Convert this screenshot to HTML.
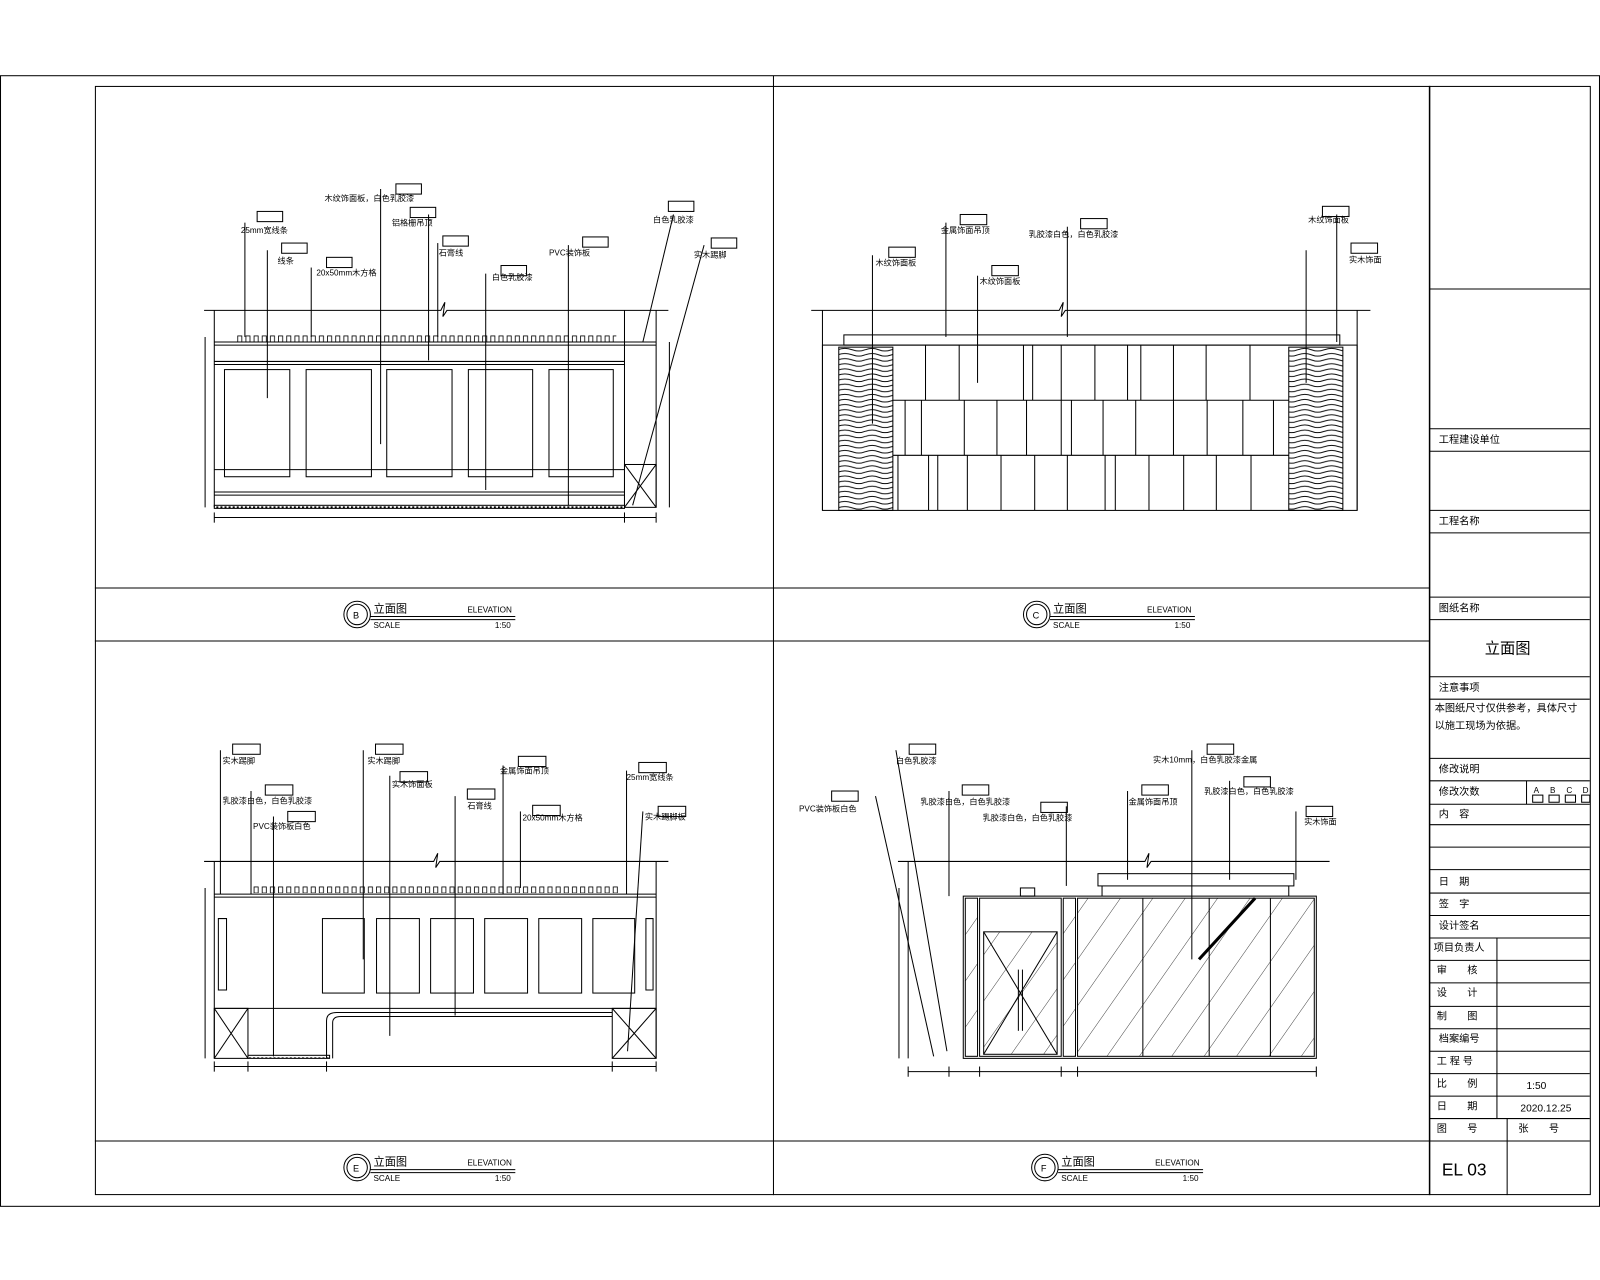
<!DOCTYPE html>
<html><head><meta charset="utf-8"><style>
html,body{margin:0;padding:0;background:#fff}
svg{display:block}
text{font-family:"Liberation Sans","Noto Sans CJK SC",sans-serif;fill:#000}
</style></head><body>
<svg width="1600" height="1280" viewBox="0 0 1568 1254" xmlns="http://www.w3.org/2000/svg">
<defs>
<pattern id="slat" x="0" y="328" width="8" height="8" patternUnits="userSpaceOnUse"><rect x="1" y="1" width="4" height="6" fill="none" stroke="#000" stroke-width="0.8"/></pattern>
<pattern id="slatE" x="0" y="868" width="8" height="8" patternUnits="userSpaceOnUse"><rect x="1" y="1" width="4" height="6" fill="none" stroke="#000" stroke-width="0.8"/></pattern>
<pattern id="wood" width="53" height="5" patternUnits="userSpaceOnUse"><path d="M0 2.5 Q7 0 13 2.5 T26 2.5 T40 2.5 T53 2.5" fill="none" stroke="#000" stroke-width="0.9"/></pattern>
<pattern id="glass" width="26" height="26" patternUnits="userSpaceOnUse" patternTransform="rotate(-55)"><line x1="0" y1="0" x2="26" y2="0" stroke="#000" stroke-width="0.8"/></pattern>
<pattern id="dots" width="4" height="4" patternUnits="userSpaceOnUse"><rect width="2" height="2" fill="#000"/></pattern>
</defs>
<g fill="none" stroke="#000" stroke-width="1">
<rect x="0.5" y="74" width="1567" height="1108"/>
<rect x="93.5" y="84.5" width="1465" height="1086"/>
<line x1="758" y1="74" x2="758" y2="1171"/>
<line x1="93" y1="628" x2="1401" y2="628"/>
<line x1="93" y1="576" x2="1401" y2="576"/>
<line x1="93" y1="1118" x2="1401" y2="1118"/>
<line x1="1401" y1="84" x2="1401" y2="1171" stroke-width="1.5"/>
<g>
<line x1="1401" y1="283" x2="1558" y2="283"/>
<line x1="1401" y1="420" x2="1558" y2="420"/>
<line x1="1401" y1="442" x2="1558" y2="442"/>
<line x1="1401" y1="500" x2="1558" y2="500"/>
<line x1="1401" y1="522" x2="1558" y2="522"/>
<line x1="1401" y1="585" x2="1558" y2="585"/>
<line x1="1401" y1="607" x2="1558" y2="607"/>
<line x1="1401" y1="663" x2="1558" y2="663"/>
<line x1="1401" y1="685" x2="1558" y2="685"/>
<line x1="1401" y1="743" x2="1558" y2="743"/>
<line x1="1401" y1="765" x2="1558" y2="765"/>
<line x1="1401" y1="788" x2="1558" y2="788"/>
<line x1="1401" y1="808" x2="1558" y2="808"/>
<line x1="1401" y1="830" x2="1558" y2="830"/>
<line x1="1401" y1="852" x2="1558" y2="852"/>
<line x1="1401" y1="875" x2="1558" y2="875"/>
<line x1="1401" y1="897" x2="1558" y2="897"/>
<line x1="1401" y1="919" x2="1558" y2="919"/>
<line x1="1401" y1="941" x2="1558" y2="941"/>
<line x1="1401" y1="963" x2="1558" y2="963"/>
<line x1="1401" y1="986" x2="1558" y2="986"/>
<line x1="1401" y1="1008" x2="1558" y2="1008"/>
<line x1="1401" y1="1030" x2="1558" y2="1030"/>
<line x1="1401" y1="1052" x2="1558" y2="1052"/>
<line x1="1401" y1="1074" x2="1558" y2="1074"/>
<line x1="1401" y1="1096" x2="1558" y2="1096"/>
<line x1="1401" y1="1118" x2="1558" y2="1118"/>
<line x1="1467" y1="919" x2="1467" y2="1096"/>
<line x1="1477" y1="1096" x2="1477" y2="1171"/>
<line x1="1496" y1="765" x2="1496" y2="788"/>
<rect x="1502" y="779" width="10" height="7"/><rect x="1518" y="779" width="10" height="7"/><rect x="1534" y="779" width="10" height="7"/><rect x="1550" y="779" width="8" height="7"/>
</g>
</g>
<g font-size="10">
<text x="1410" y="434">工程建设单位</text>
<text x="1410" y="514">工程名称</text>
<text x="1410" y="599">图纸名称</text>
<text x="1455" y="640" font-size="15">立面图</text>
<text x="1410" y="677">注意事项</text>
<text x="1406" y="697">本图纸尺寸仅供参考，具体尺寸</text>
<text x="1406" y="714">以施工现场为依据。</text>
<text x="1410" y="757">修改说明</text>
<text x="1410" y="779">修改次数</text>
<text x="1503" y="777" font-size="8">A</text><text x="1519" y="777" font-size="8">B</text><text x="1535" y="777" font-size="8">C</text><text x="1551" y="777" font-size="8">D</text>
<text x="1410" y="801">内　容</text>
<text x="1410" y="867">日　期</text>
<text x="1410" y="889">签　字</text>
<text x="1410" y="910">设计签名</text>
<text x="1405" y="932">项目负责人</text>
<text x="1408" y="954">审　　核</text>
<text x="1408" y="976">设　　计</text>
<text x="1408" y="999">制　　图</text>
<text x="1410" y="1021">档案编号</text>
<text x="1408" y="1043">工 程 号</text>
<text x="1408" y="1065">比　　例</text><text x="1496" y="1067">1:50</text>
<text x="1408" y="1087">日　　期</text><text x="1490" y="1089">2020.12.25</text>
<text x="1408" y="1109">图　　号</text><text x="1488" y="1109">张　　号</text>
<text x="1413" y="1152" font-size="17" font-family="Liberation Serif">EL  03</text>
</g>

<g font-size="10" fill="none" stroke="#000">
<g>
<circle cx="350" cy="602" r="13"/><circle cx="350" cy="602" r="10"/>
<line x1="363" y1="604" x2="505" y2="604"/><line x1="363" y1="607" x2="505" y2="607"/>
</g>
<g transform="translate(666,0)">
<circle cx="350" cy="602" r="13"/><circle cx="350" cy="602" r="10"/>
<line x1="363" y1="604" x2="505" y2="604"/><line x1="363" y1="607" x2="505" y2="607"/>
</g>
<g transform="translate(0,542)">
<circle cx="350" cy="602" r="13"/><circle cx="350" cy="602" r="10"/>
<line x1="363" y1="604" x2="505" y2="604"/><line x1="363" y1="607" x2="505" y2="607"/>
</g>
<g transform="translate(674,542)">
<circle cx="350" cy="602" r="13"/><circle cx="350" cy="602" r="10"/>
<line x1="363" y1="604" x2="505" y2="604"/><line x1="363" y1="607" x2="505" y2="607"/>
</g>
</g>
<g font-size="11">
<text x="346" y="606" font-size="9">B</text><text x="366" y="600">立面图</text><text x="458" y="600" font-size="8">ELEVATION</text><text x="366" y="615" font-size="8">SCALE</text><text x="485" y="615" font-size="8">1:50</text>
<text x="1012" y="606" font-size="9">C</text><text x="1032" y="600">立面图</text><text x="1124" y="600" font-size="8">ELEVATION</text><text x="1032" y="615" font-size="8">SCALE</text><text x="1151" y="615" font-size="8">1:50</text>
<text x="346" y="1148" font-size="9">E</text><text x="366" y="1142">立面图</text><text x="458" y="1142" font-size="8">ELEVATION</text><text x="366" y="1157" font-size="8">SCALE</text><text x="485" y="1157" font-size="8">1:50</text>
<text x="1020" y="1148" font-size="9">F</text><text x="1040" y="1142">立面图</text><text x="1132" y="1142" font-size="8">ELEVATION</text><text x="1040" y="1157" font-size="8">SCALE</text><text x="1159" y="1157" font-size="8">1:50</text>
</g>

<!-- ELEVATION B -->
<g fill="none" stroke="#000" stroke-width="1">
<path d="M200 304 H432 L436 296 L434 310 L438 304 H655"/>
<line x1="210" y1="304" x2="210" y2="497"/>
<line x1="612" y1="304" x2="612" y2="497"/>
<line x1="643" y1="304" x2="643" y2="497"/>
<rect x="232" y="328" width="372" height="7" fill="url(#slat)" stroke="none"/>
<line x1="210" y1="335" x2="643" y2="335"/><line x1="210" y1="338" x2="643" y2="338"/>
<line x1="210" y1="354" x2="612" y2="354"/><line x1="210" y1="357" x2="612" y2="357"/>
<rect x="220" y="362" width="64" height="105"/><rect x="300" y="362" width="64" height="105"/><rect x="379" y="362" width="64" height="105"/><rect x="459" y="362" width="63" height="105"/><rect x="538" y="362" width="63" height="105"/>
<line x1="210" y1="460" x2="612" y2="460"/>
<line x1="210" y1="482" x2="612" y2="482"/><line x1="210" y1="485" x2="612" y2="485"/>
<rect x="210" y="495" width="402" height="3" fill="url(#dots)"/>
<rect x="612" y="455" width="31" height="42"/><line x1="612" y1="455" x2="643" y2="497"/><line x1="643" y1="455" x2="612" y2="497"/>
<line x1="210" y1="507" x2="643" y2="507"/><line x1="210" y1="502" x2="210" y2="512"/><line x1="612" y1="502" x2="612" y2="512"/><line x1="643" y1="502" x2="643" y2="512"/>
<line x1="201" y1="330" x2="201" y2="497"/><line x1="656" y1="335" x2="656" y2="497"/>
<line x1="240" y1="218" x2="240" y2="330"/><line x1="262" y1="245" x2="262" y2="390"/><line x1="305" y1="262" x2="305" y2="330"/>
<line x1="373" y1="185" x2="373" y2="435"/><line x1="420" y1="210" x2="420" y2="353"/><line x1="429" y1="238" x2="429" y2="330"/>
<line x1="476" y1="268" x2="476" y2="480"/><line x1="557" y1="240" x2="557" y2="495"/>
<line x1="660" y1="210" x2="630" y2="335"/><line x1="690" y1="240" x2="620" y2="495"/>
<rect x="252" y="207" width="25" height="10"/><rect x="276" y="238" width="25" height="10"/><rect x="320" y="252" width="25" height="10"/><rect x="388" y="180" width="25" height="10"/><rect x="402" y="203" width="25" height="10"/><rect x="434" y="231" width="25" height="10"/><rect x="491" y="260" width="25" height="10"/><rect x="571" y="232" width="25" height="10"/><rect x="655" y="197" width="25" height="10"/><rect x="697" y="233" width="25" height="10"/>
</g>
<g font-size="8">
<text x="236" y="228">25mm宽线条</text><text x="272" y="258">线条</text><text x="310" y="270">20x50mm木方格</text><text x="318" y="197">木纹饰面板，白色乳胶漆</text><text x="384" y="221">铝格栅吊顶</text><text x="430" y="250">石膏线</text><text x="482" y="274">白色乳胶漆</text><text x="538" y="250">PVC装饰板</text><text x="640" y="218">白色乳胶漆</text><text x="680" y="252">实木踢脚</text>
</g>

<!-- ELEVATION C -->
<g fill="none" stroke="#000" stroke-width="1">
<path d="M795 304 H1038 L1042 296 L1040 310 L1044 304 H1343"/>
<line x1="806" y1="304" x2="806" y2="500"/><line x1="1330" y1="304" x2="1330" y2="500"/>
<rect x="827" y="328" width="486" height="10"/>
<rect x="806" y="338" width="524" height="162"/>
<rect x="822" y="340" width="53" height="160" fill="url(#wood)"/>
<rect x="1263" y="340" width="53" height="160" fill="url(#wood)"/>
<line x1="875" y1="392" x2="1263" y2="392"/><line x1="875" y1="446" x2="1263" y2="446"/>
<path d="M907 338V392M940 338V392M1003 338V392M1012 338V392M1040 338V392M1073 338V392M1105 338V392M1118 338V392M1150 338V392M1182 338V392M1225 338V392
M887 392V446M903 392V446M945 392V446M977 392V446M1006 392V446M1040 392V446M1050 392V446M1081 392V446M1113 392V446M1150 392V446M1183 392V446M1218 392V446M1248 392V446
M880 446V500M910 446V500M919 446V500M948 446V500M981 446V500M1014 446V500M1046 446V500M1083 446V500M1093 446V500M1126 446V500M1160 446V500M1192 446V500M1226 446V500"/>
<line x1="855" y1="250" x2="855" y2="415"/><line x1="927" y1="218" x2="927" y2="330"/><line x1="958" y1="270" x2="958" y2="375"/><line x1="1046" y1="222" x2="1046" y2="330"/><line x1="1310" y1="210" x2="1310" y2="335"/><line x1="1280" y1="245" x2="1280" y2="375"/>
<rect x="871" y="242" width="26" height="10"/><rect x="941" y="210" width="26" height="10"/><rect x="972" y="260" width="26" height="10"/><rect x="1059" y="214" width="26" height="10"/><rect x="1296" y="202" width="26" height="10"/><rect x="1324" y="238" width="26" height="10"/>
</g>
<g font-size="8"><text x="858" y="260">木纹饰面板</text><text x="922" y="228">金属饰面吊顶</text><text x="1008" y="232">乳胶漆白色，白色乳胶漆</text><text x="960" y="278">木纹饰面板</text><text x="1282" y="218">木纹饰面板</text><text x="1322" y="257">实木饰面</text></g>

<!-- ELEVATION E -->
<g fill="none" stroke="#000" stroke-width="1">
<path d="M200 844 H425 L429 836 L427 850 L431 844 H655"/>
<line x1="210" y1="844" x2="210" y2="1037"/><line x1="643" y1="844" x2="643" y2="1037"/>
<rect x="248" y="868" width="360" height="7" fill="url(#slatE)" stroke="none"/>
<line x1="210" y1="876" x2="643" y2="876"/><line x1="210" y1="879" x2="643" y2="879"/>
<rect x="316" y="900" width="41" height="73"/><rect x="369" y="900" width="42" height="73"/><rect x="422" y="900" width="42" height="73"/><rect x="475" y="900" width="42" height="73"/><rect x="528" y="900" width="42" height="73"/><rect x="581" y="900" width="41" height="73"/>
<path d="M214 900 H222 V970 H214 Z M633 900 H640 V970 H633 Z"/>
<line x1="210" y1="988" x2="643" y2="988"/>
<rect x="210" y="988" width="33" height="49"/><line x1="210" y1="988" x2="243" y2="1037"/><line x1="243" y1="988" x2="210" y2="1037"/>
<rect x="600" y="988" width="43" height="49"/><line x1="600" y1="988" x2="643" y2="1037"/><line x1="643" y1="988" x2="600" y2="1037"/>
<path d="M320 1037 V1000 Q320 992 330 992 H600 M326 1037 V1002 Q326 996 334 996 H600"/>
<rect x="243" y="1034" width="80" height="3" fill="url(#dots)"/>
<line x1="210" y1="1045" x2="643" y2="1045"/><line x1="210" y1="1040" x2="210" y2="1050"/><line x1="243" y1="1040" x2="243" y2="1050"/><line x1="320" y1="1040" x2="320" y2="1050"/><line x1="600" y1="1040" x2="600" y2="1050"/><line x1="643" y1="1040" x2="643" y2="1050"/>
<line x1="201" y1="870" x2="201" y2="1037"/>
<line x1="216" y1="735" x2="216" y2="876"/><line x1="246" y1="775" x2="246" y2="876"/><line x1="268" y1="800" x2="268" y2="1035"/>
<line x1="356" y1="735" x2="356" y2="940"/><line x1="382" y1="760" x2="382" y2="1015"/><line x1="446" y1="780" x2="446" y2="995"/><line x1="493" y1="750" x2="493" y2="876"/><line x1="510" y1="795" x2="510" y2="870"/>
<line x1="614" y1="755" x2="614" y2="876"/><line x1="630" y1="795" x2="615" y2="1030"/>
<rect x="228" y="729" width="27" height="10"/><rect x="260" y="769" width="27" height="10"/><rect x="282" y="795" width="27" height="10"/><rect x="368" y="729" width="27" height="10"/><rect x="392" y="756" width="27" height="10"/><rect x="458" y="773" width="27" height="10"/><rect x="508" y="741" width="27" height="10"/><rect x="522" y="789" width="27" height="10"/><rect x="626" y="747" width="27" height="10"/><rect x="645" y="790" width="27" height="10"/>
</g>
<g font-size="8"><text x="218" y="748">实木踢脚</text><text x="218" y="787">乳胶漆白色，白色乳胶漆</text><text x="248" y="812">PVC装饰板白色</text><text x="360" y="748">实木踢脚</text><text x="384" y="771">实木饰面板</text><text x="458" y="792">石膏线</text><text x="490" y="758">金属饰面吊顶</text><text x="512" y="804">20x50mm木方格</text><text x="614" y="764">25mm宽线条</text><text x="632" y="803">实木踢脚板</text></g>

<!-- ELEVATION F -->
<g fill="none" stroke="#000" stroke-width="1">
<path d="M880 844 H1122 L1126 836 L1124 850 L1128 844 H1303"/>
<line x1="890" y1="844" x2="890" y2="1037"/>
<rect x="1076" y="856" width="192" height="12"/>
<line x1="1080" y1="868" x2="1080" y2="878"/><line x1="1263" y1="868" x2="1263" y2="878"/>
<rect x="944" y="878" width="346" height="159"/>
<rect x="946" y="880" width="12" height="155" fill="url(#glass)"/>
<rect x="960" y="880" width="80" height="155"/>
<rect x="964" y="913" width="72" height="120" fill="url(#glass)"/>
<line x1="964" y1="913" x2="1036" y2="1033"/><line x1="1036" y1="913" x2="964" y2="1033"/>
<line x1="998" y1="950" x2="998" y2="1010"/><line x1="1002" y1="950" x2="1002" y2="1010"/>
<rect x="1042" y="880" width="12" height="155" fill="url(#glass)"/>
<rect x="1056" y="880" width="232" height="155" fill="url(#glass)"/>
<line x1="1120" y1="880" x2="1120" y2="1035"/><line x1="1185" y1="880" x2="1185" y2="1035"/><line x1="1245" y1="880" x2="1245" y2="1035"/>
<line x1="1175" y1="940" x2="1230" y2="880" stroke-width="3"/>
<rect x="1000" y="870" width="14" height="8"/>
<line x1="890" y1="1050" x2="1290" y2="1050"/><line x1="890" y1="1045" x2="890" y2="1055"/><line x1="930" y1="1045" x2="930" y2="1055"/><line x1="960" y1="1045" x2="960" y2="1055"/><line x1="1040" y1="1045" x2="1040" y2="1055"/><line x1="1056" y1="1045" x2="1056" y2="1055"/><line x1="1290" y1="1045" x2="1290" y2="1055"/>
<line x1="881" y1="870" x2="881" y2="1037"/>
<line x1="878" y1="735" x2="928" y2="1030"/><line x1="858" y1="780" x2="915" y2="1035"/>
<line x1="930" y1="775" x2="930" y2="878"/><line x1="1045" y1="790" x2="1045" y2="868"/><line x1="1105" y1="775" x2="1105" y2="862"/><line x1="1168" y1="735" x2="1168" y2="940"/><line x1="1205" y1="765" x2="1205" y2="862"/><line x1="1270" y1="795" x2="1270" y2="862"/>
<rect x="891" y="729" width="26" height="10"/><rect x="815" y="775" width="26" height="10"/><rect x="943" y="769" width="26" height="10"/><rect x="1020" y="786" width="26" height="10"/><rect x="1119" y="769" width="26" height="10"/><rect x="1183" y="729" width="26" height="10"/><rect x="1219" y="761" width="26" height="10"/><rect x="1280" y="790" width="26" height="10"/>
</g>
<g font-size="8"><text x="878" y="748">白色乳胶漆</text><text x="783" y="795">PVC装饰板白色</text><text x="902" y="788">乳胶漆白色，白色乳胶漆</text><text x="963" y="804">乳胶漆白色，白色乳胶漆</text><text x="1106" y="788">金属饰面吊顶</text><text x="1130" y="747">实木10mm，白色乳胶漆金属</text><text x="1180" y="778">乳胶漆白色，白色乳胶漆</text><text x="1278" y="808">实木饰面</text></g>
</svg>
</body></html>
